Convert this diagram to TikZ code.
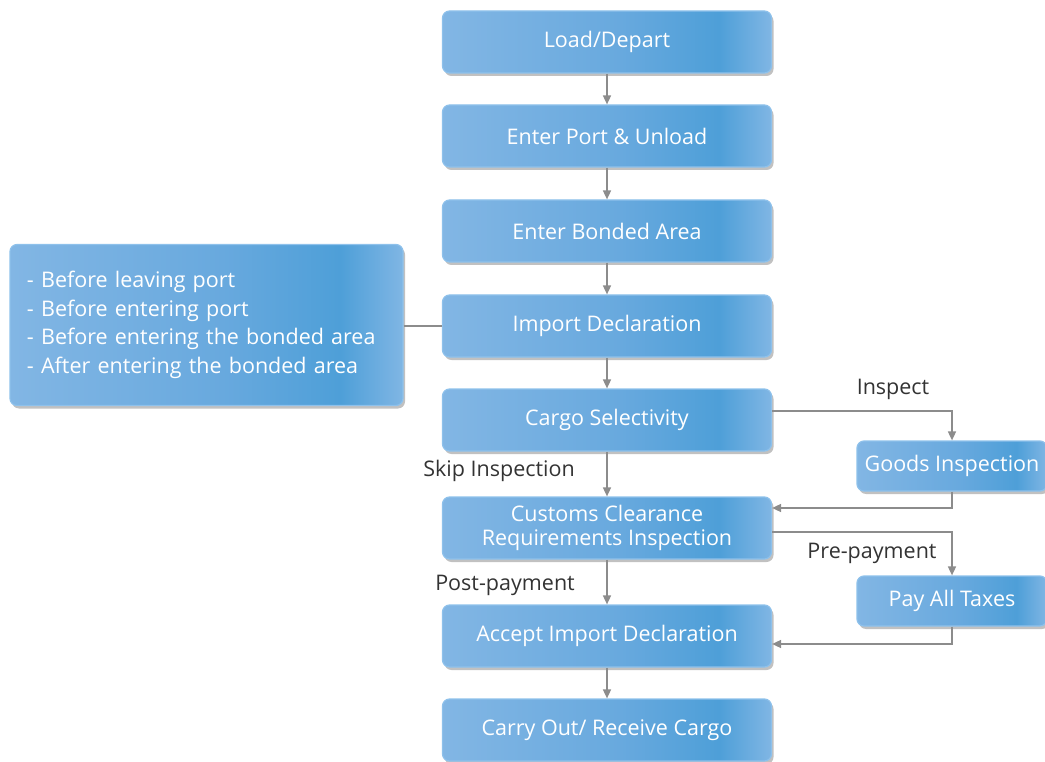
\documentclass[tikz,border=0pt]{standalone}
\usepackage{fontspec}
\setmainfont{Open Sans}
\usetikzlibrary{shadows,arrows.meta,calc}
\definecolor{bA}{HTML}{82B6E4}
\definecolor{bB}{HTML}{68A9DE}
\definecolor{bC}{HTML}{4E9FD8}
\definecolor{bD}{HTML}{80B6E4}
\definecolor{bBorder}{HTML}{8EC1EB}
\definecolor{lineg}{HTML}{8C8C8C}
\definecolor{labg}{HTML}{333333}
\pgfdeclarehorizontalshading{boxshade}{100bp}{color(0bp)=(bA); color(25bp)=(bA); color(52bp)=(bB); color(67bp)=(bC); color(75bp)=(bD); color(100bp)=(bD)}
\tikzset{
  box/.style={draw=bBorder, line width=1.2pt, rounded corners=7pt, shading=boxshade,
    drop shadow={shadow xshift=2pt,shadow yshift=-3pt,opacity=0.35,fill=black!70},
    minimum width=329pt, minimum height=62pt, text=white, inner sep=0pt,
    font=\fontsize{21.5}{24}\selectfont, align=center},
  sidebox/.style={box, minimum width=190pt, minimum height=50pt},
  conn/.style={draw=lineg, line width=1.6pt, -{Triangle[length=9pt,width=8pt]}},
  plain/.style={draw=lineg, line width=1.6pt},
  lab/.style={text=labg, font=\fontsize{21.5}{24}\selectfont, inner sep=0pt}
}
\begin{document}
\begin{tikzpicture}[x=1pt,y=-1pt]
\useasboundingbox (0,0) rectangle (1045,762);
\node[box] (load) at (607,42) {Load/Depart};
\node[box] (port) at (607,136) {Enter Port \& Unload};
\node[box] (bond) at (607,231) {Enter Bonded Area};
\node[box] (imp) at (607,326) {Import Declaration};
\node[box] (cargo) at (607,420) {Cargo Selectivity};
\node[box] (cust) at (607,528) {Customs Clearance\\Requirements Inspection};
\node[box] (acc) at (607,636) {Accept Import Declaration};
\node[box] (carry) at (607,730) {Carry Out/ Receive Cargo};
\node[box, minimum width=0pt, text width=359pt, minimum height=161pt, inner xsep=17pt, align=left, font=\fontsize{21.5}{28.7}\selectfont] (left) at (206.5,325)
  {- Before leaving port\\- Before entering port\\- Before entering the bonded area\\- After entering the bonded area};
\node[sidebox] (goods) at (952,466) {Goods Inspection};
\node[sidebox] (pay) at (952,601) {Pay All Taxes};

\coordinate (yA) at (0,411);
\coordinate (yB) at (0,508);
\coordinate (yC) at (0,532);
\coordinate (yD) at (0,644);

\draw[conn] (load) -- (port);
\draw[conn] (port) -- (bond);
\draw[conn] (bond) -- (imp);
\draw[conn] (imp) -- (cargo);
\draw[conn] (cargo) -- (cust);
\draw[conn] (cust) -- (acc);
\draw[conn] (acc) -- (carry);
\draw[plain] (left.east |- imp.west) -- (imp.west);
\draw[conn] (cargo.east |- yA) -| (goods.north);
\draw[conn] (goods.south) |- (cust.east |- yB);
\draw[conn] (cust.east |- yC) -| (pay.north);
\draw[conn] (pay.south) |- (acc.east |- yD);

\node[lab] (l1) at (893,389) {Inspect};
\node[lab, anchor=east] (l2) at (575,471) {Skip Inspection};
\node[lab] (l3) at (872,553) {Pre-payment};
\node[lab, anchor=east] (l4) at (575,585) {Post-payment};
\end{tikzpicture}
\end{document}
